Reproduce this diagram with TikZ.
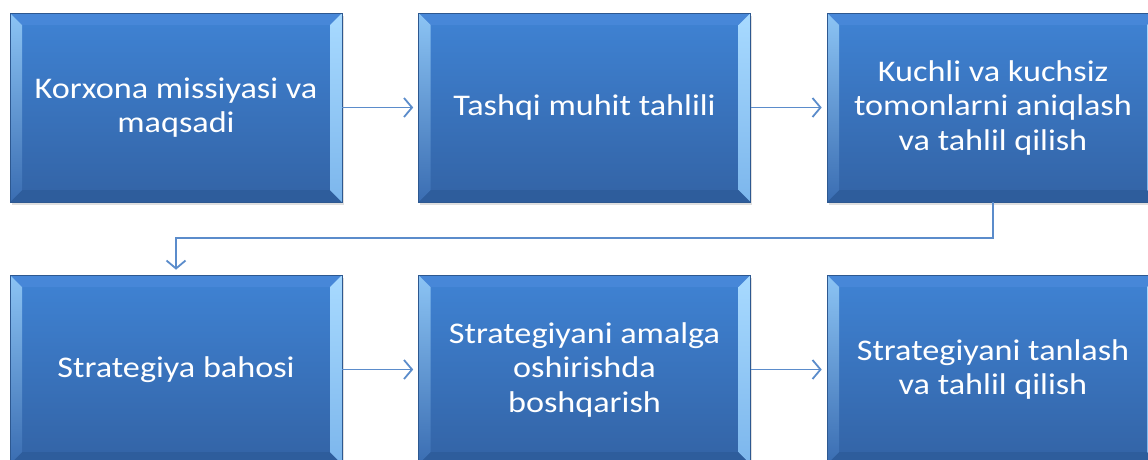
\documentclass[tikz,border=0pt]{standalone}
\usepackage{fontspec}
\setmainfont{Carlito}[FakeStretch=1.14]
\usetikzlibrary{arrows.meta,shadows}
\definecolor{topc}{HTML}{3F83D4}
\definecolor{botc}{HTML}{3363A5}
\definecolor{edgec}{HTML}{2D5890}
\definecolor{lbtop}{HTML}{8CC4F4}
\definecolor{lbbot}{HTML}{3A6DB2}
\definecolor{rbtop}{HTML}{A8DAFF}
\definecolor{rbbot}{HTML}{7CB6EC}
\definecolor{tbc}{HTML}{4787D8}
\definecolor{bbc}{HTML}{2E5D9C}
\definecolor{linkc}{HTML}{5B8CCB}
\tikzset{
  bevelbox/.style={draw=edgec, line width=0.6pt, top color=topc, bottom color=botc,
    minimum width=332pt, minimum height=189pt, inner sep=0pt, text=white, align=center,
    font=\fontsize{30pt}{34.5pt}\selectfont,
    drop shadow={shadow xshift=1.5pt, shadow yshift=-3pt, opacity=0.25},
    path picture={
      \path (path picture bounding box.north west) coordinate (pnw)
            (path picture bounding box.north east) coordinate (pne)
            (path picture bounding box.south west) coordinate (psw)
            (path picture bounding box.south east) coordinate (pse);
      \fill[tbc] (pnw) -- (pne) -- ([shift={(-12pt,-12pt)}]pne) -- ([shift={(12pt,-12pt)}]pnw) -- cycle;
      \fill[bbc] (psw) -- (pse) -- ([shift={(-12pt,12pt)}]pse) -- ([shift={(12pt,12pt)}]psw) -- cycle;
      \shade[top color=lbtop, bottom color=lbbot] (pnw) -- ([shift={(12pt,-12pt)}]pnw) -- ([shift={(12pt,12pt)}]psw) -- (psw) -- cycle;
      \shade[top color=rbtop, bottom color=rbbot] (pne) -- ([shift={(-12pt,-12pt)}]pne) -- ([shift={(-12pt,12pt)}]pse) -- (pse) -- cycle;
    }},
  link/.style={draw=linkc, line width=1.8pt, -{Straight Barb[length=8pt,width=19pt]}, shorten >=5pt},
}
\begin{document}
\begin{tikzpicture}[x=1pt,y=-1pt]
\useasboundingbox (0,0) rectangle (1148,459);
\clip (0,0) rectangle (1148,459);
\node[bevelbox] (b1) at (176,107.5) {Korxona missiyasi va\\maqsadi};
\node[bevelbox] (b2) at (584.5,107.5) {Tashqi muhit tahlili};
\node[bevelbox] (b3) at (993,107.5) {Kuchli va kuchsiz\\tomonlarni aniqlash\\va tahlil qilish};
\node[bevelbox] (b4) at (176,369.5) {Strategiya bahosi};
\node[bevelbox] (b5) at (584.5,369.5) {Strategiyani amalga\\oshirishda\\boshqarish};
\node[bevelbox] (b6) at (993,369.5) {Strategiyani tanlash\\va tahlil qilish};
\draw[link] (b1) -- (b2);
\draw[link] (b2) -- (b3);
\draw[link] (b3.south) -- ++(0,36) -| (b4.north);
\draw[link] (b4) -- (b5);
\draw[link] (b5) -- (b6);
\end{tikzpicture}
\end{document}
